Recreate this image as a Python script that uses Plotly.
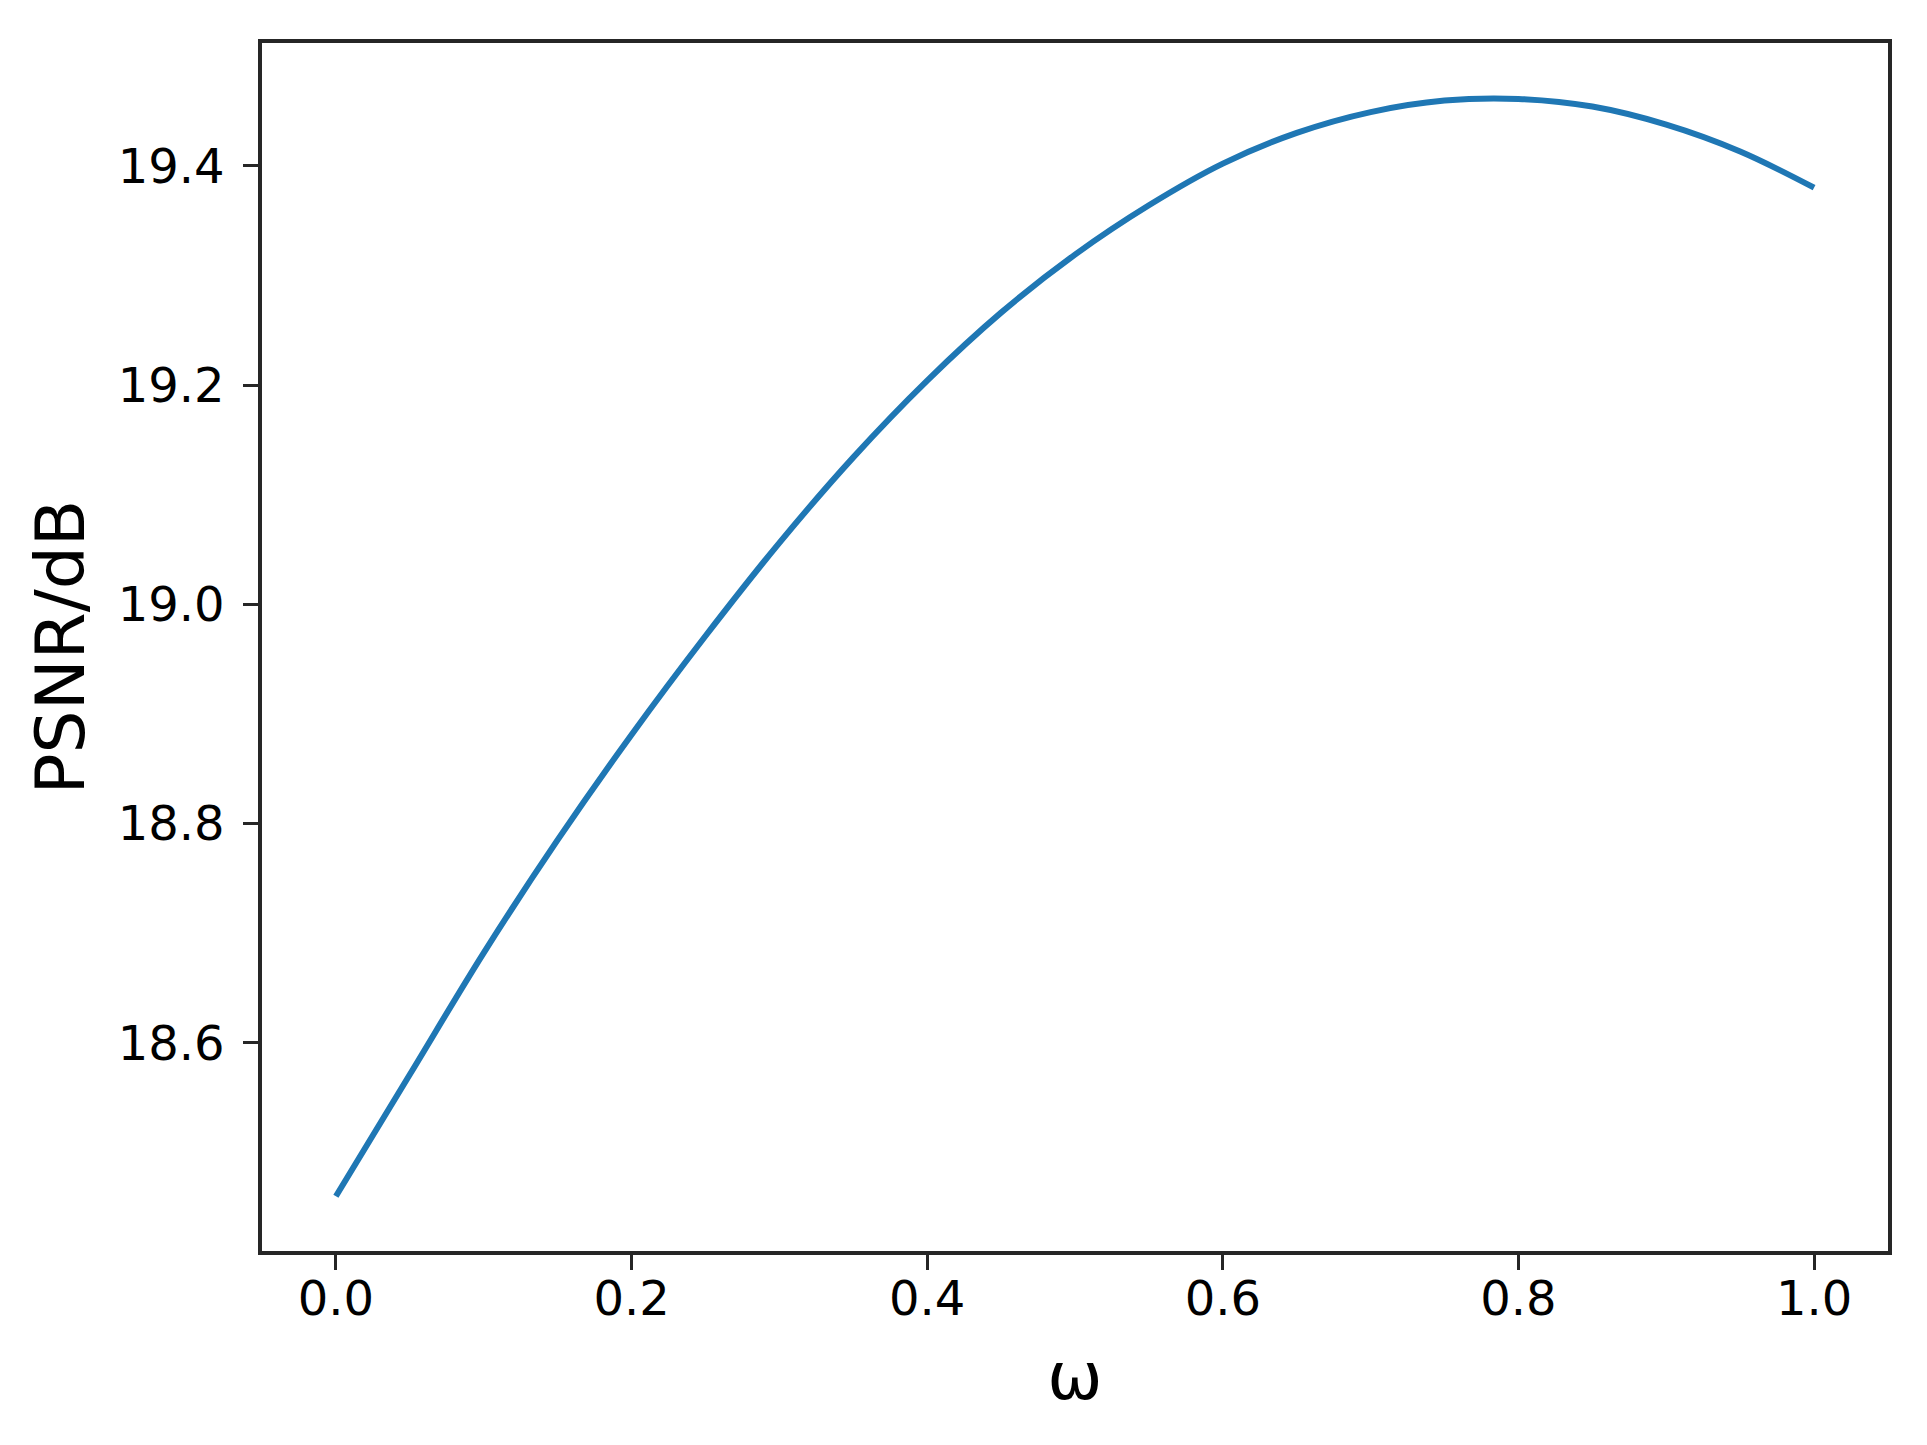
import plotly.graph_objects as go

omega = [0.00, 0.05, 0.10, 0.15, 0.20, 0.25, 0.30, 0.35, 0.40, 0.45, 0.50,
         0.55, 0.60, 0.65, 0.70, 0.75, 0.80, 0.85, 0.90, 0.95, 1.00]
psnr = [18.460, 18.571, 18.682, 18.785, 18.881, 18.971, 19.056, 19.134, 19.204,
        19.266, 19.319, 19.364, 19.402, 19.430, 19.449, 19.4595, 19.461, 19.454,
        19.4375, 19.413, 19.380]

x_ticks = [0.0, 0.2, 0.4, 0.6, 0.8, 1.0]
y_ticks = [18.6, 18.8, 19.0, 19.2, 19.4]

FONT = "DejaVu Sans"
AX = "#262626"

fig = go.Figure()
fig.add_trace(go.Scatter(x=omega, y=psnr, mode="lines",
                         line=dict(color="#1f77b4", width=6, shape="spline", smoothing=1.0),
                         showlegend=False))

axis_common = dict(showline=True, linecolor=AX, linewidth=3.5, mirror=True,
                   ticks="outside", ticklen=15, tickwidth=3, tickcolor=AX,
                   showgrid=False, zeroline=False,
                   tickfont=dict(family=FONT, size=48, color="black"))

fig.update_xaxes(range=[-0.05, 1.05], tickvals=x_ticks,
                 ticktext=[f"{v:.1f}" for v in x_ticks],
                 ticklabelstandoff=-12,
                 title=dict(text="ω", font=dict(family=FONT, size=66, color="black"), standoff=28),
                 **axis_common)
fig.update_yaxes(range=[18.410, 19.512], tickvals=y_ticks,
                 ticktext=[f"{v:.1f}" for v in y_ticks],
                 ticklabelstandoff=9,
                 title=dict(text="PSNR/dB", font=dict(family=FONT, size=68, color="black"), standoff=12),
                 **axis_common)

fig.update_layout(width=1927, height=1445,
                  margin=dict(l=254, r=47, t=35, b=202, autoexpand=False),
                  paper_bgcolor="white", plot_bgcolor="white")

fig.write_html("out.html")
